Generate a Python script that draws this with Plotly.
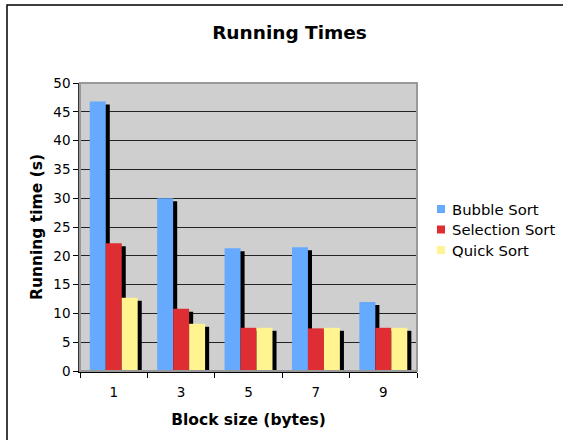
import plotly.graph_objects as go

categories = ["1", "3", "5", "7", "9"]
bubble_sort = [46.8, 30.0, 21.3, 21.5, 12.0]
selection_sort = [22.2, 10.8, 7.5, 7.4, 7.5]
quick_sort = [12.7, 8.2, 7.5, 7.5, 7.5]
series_names = ["Bubble Sort", "Selection Sort", "Quick Sort"]
series_colors = ["#66AAFF", "#DE2D33", "#FFF48F"]
y_ticks = list(range(0, 51, 5))

series = list(zip(series_names, [bubble_sort, selection_sort, quick_sort], series_colors))

W, H = 563, 440
L, T = 80, 83
PR, PB = 417, 371           # plot right / bottom in pixels
R, B = W - PR, H - PB
pw, ph = PR - L, PB - T

bar_w = 0.237
start = -0.355
shadow_dx = 0.06
shadow_dy = 3 * 50 / ph

FONT = "DejaVu Sans"
fig = go.Figure()

# shadows first (drawn behind the bars)
for i, (name, vals, col) in enumerate(series):
    fig.add_trace(go.Bar(
        x=categories, y=[max(v - shadow_dy, 0) for v in vals],
        offset=start + i * bar_w + shadow_dx, width=bar_w,
        marker=dict(color="black", line=dict(width=0)),
        showlegend=False, hoverinfo="skip",
    ))
for i, (name, vals, col) in enumerate(series):
    fig.add_trace(go.Bar(
        x=categories, y=vals, name=name,
        offset=start + i * bar_w, width=bar_w,
        marker=dict(color=col, line=dict(width=0)),
        showlegend=False,
    ))


def px2x(px):
    return (px - L) / pw


def px2y(py):
    return (PB - py) / ph


shapes = [
    dict(type="rect", xref="paper", yref="paper",
         x0=0, x1=1, y0=0, y1=1, line=dict(color="#999999", width=2), layer="above"),
    dict(type="rect", xref="paper", yref="paper",
         x0=px2x(7), x1=px2x(570), y0=px2y(450), y1=px2y(5),
         line=dict(color="black", width=1.5)),
]
annotations = []
legend_rows = [209, 229.5, 250]
for (name, vals, col), yc in zip(series, legend_rows):
    shapes.append(dict(type="rect", xref="paper", yref="paper",
                       x0=px2x(437), x1=px2x(445), y0=px2y(yc + 4), y1=px2y(yc - 4),
                       fillcolor=col, line=dict(width=0)))
    annotations.append(dict(text=name, xref="paper", yref="paper",
                            x=px2x(450), y=px2y(yc), xanchor="left", yanchor="middle",
                            showarrow=False, font=dict(size=14.8, family=FONT, color="black")))

fig.update_layout(
    width=W, height=H,
    margin=dict(l=L, r=R, t=T, b=B, pad=0),
    barmode="overlay",
    showlegend=False,
    paper_bgcolor="white",
    plot_bgcolor="#CFCFCF",
    font=dict(family=FONT, size=13.5, color="black"),
    title=dict(text="<b>Running Times</b>", x=289.5 / W, xanchor="center",
               y=1 - 32.5 / H, yanchor="middle", font=dict(size=18.5, family=FONT)),
    shapes=shapes,
    annotations=annotations,
)
fig.update_xaxes(
    type="category", tickson="boundaries", ticks="outside", ticklen=5,
    tickcolor="black", showline=True, linecolor="black", linewidth=1.5,
    showgrid=False, tickfont=dict(size=13.5), ticklabelstandoff=8,
    title=dict(text="<b>Block size (bytes)</b>", font=dict(size=15.5), standoff=15),
    range=[-0.5, 4.5],
)
fig.update_yaxes(
    range=[0, 50], tickvals=y_ticks, ticks="outside", ticklen=5,
    tickcolor="black", showline=True, linecolor="#333333", linewidth=1.5,
    showgrid=True, gridcolor="#222222", gridwidth=1.2, zeroline=False,
    tickfont=dict(size=13.5),
    title=dict(text="<b>Running time (s)</b>", font=dict(size=15.5), standoff=7),
)

fig.write_html("out.html", config={"displayModeBar": False},
               post_script="document.body.style.margin='0';")
